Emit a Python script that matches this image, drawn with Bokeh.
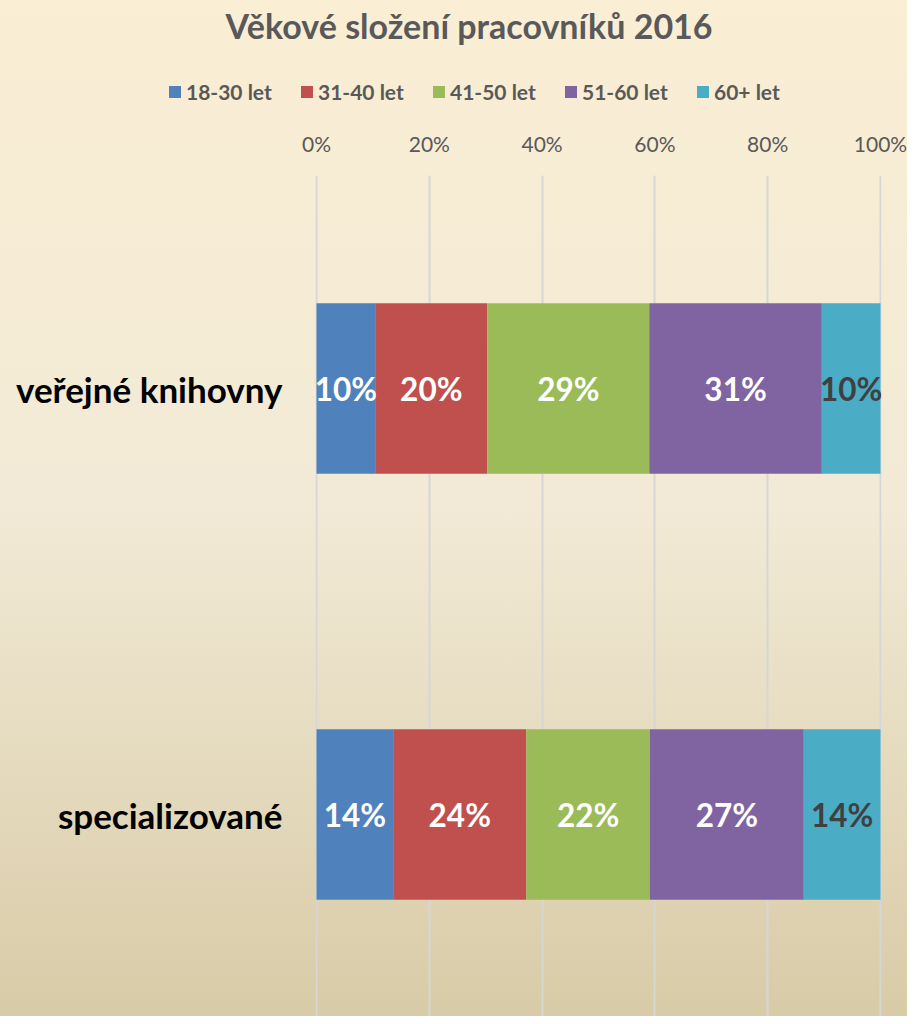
from bokeh.plotting import figure
from bokeh.layouts import column
from bokeh.models import (ColumnDataSource, Range1d, FixedTicker, PrintfTickFormatter,
                          Legend, LegendItem)
from bokeh.core.properties import value
from bokeh.embed import file_html
from bokeh.resources import INLINE

# ---- data ----
categories = ["veřejné knihovny", "specializované"]
age_groups = ["18-30 let", "31-40 let", "41-50 let", "51-60 let", "60+ let"]
verejne_knihovny = [10.4, 19.9, 28.7, 30.6, 10.4]
specializovane = [13.6, 23.6, 21.9, 27.3, 13.6]
x_ticks = [0, 20, 40, 60, 80, 100]

colors = ["#4F81BD", "#C0504D", "#9BBB59", "#8064A2", "#4BACC6"]
label_colors = ["#FFFFFF", "#FFFFFF", "#FFFFFF", "#FFFFFF", "#404040"]
FONT = "Lato"
W, H_HEAD, H_TOTAL = 907, 120, 1016

series = [verejne_knihovny, specializovane]
ypos = [len(categories) - 1 - i for i in range(len(categories))]

# ---------------- header: title + legend ----------------
head = figure(width=W, height=H_HEAD, output_backend="svg", toolbar_location=None,
              x_range=Range1d(0, 1), y_range=Range1d(0, 1),
              x_axis_location=None, y_axis_location=None,
              min_border_left=0, min_border_right=0, min_border_top=0, min_border_bottom=0)
head.frame_align = False
head.background_fill_color = None
head.border_fill_color = None
head.outline_line_color = None
head.grid.visible = False
head.title.text = "Věkové složení pracovníků 2016"
head.title.text_font = FONT
head.title.text_font_size = "34px"
head.title.text_font_style = "bold"
head.title.text_color = "#595959"
head.title.align = "left"
head.title.offset = 225
head.title.standoff = 4

# legend proxies: zero-size bars outside the visible range, used only for the swatches
proxy_src = ColumnDataSource(dict(y=[-5], left=[0], right=[0]))
proxies = [head.hbar(y="y", left="left", right="right", height=0, color=c, line_color=None,
                     source=proxy_src) for c in colors]
legend = Legend(items=[LegendItem(label=g, renderers=[r]) for g, r in zip(age_groups, proxies)],
                orientation="horizontal", location=(167, 16),
                padding=4, margin=0, spacing=27, label_standoff=4,
                glyph_width=15, glyph_height=15, label_width=86,
                label_text_font=FONT, label_text_font_size="21px",
                label_text_font_style="bold", label_text_color="#595959",
                border_line_color=None, background_fill_alpha=0)
head.add_layout(legend, "center")

# ---------------- main chart ----------------
p = figure(width=W, height=H_TOTAL - H_HEAD, output_backend="svg", toolbar_location=None,
           x_range=Range1d(-0.18, 100.18), y_range=Range1d(-0.474, 1.5),
           x_axis_location="above",
           min_border_left=315, min_border_right=26, min_border_top=55, min_border_bottom=0)
p.frame_align = False
p.background_fill_color = None
p.border_fill_color = None
p.outline_line_color = None

data = {"y": ypos}
for j, g in enumerate(age_groups):
    data[g] = [s[j] for s in series]
src = ColumnDataSource(data)
rs = p.hbar_stack(age_groups, y="y", height=0.4, color=colors, source=src, line_color=None)

lx, ly, lt, lc = [], [], [], []
for i, s in enumerate(series):
    cum = 0.0
    for j, v in enumerate(s):
        lx.append(cum + v / 2)
        ly.append(ypos[i])
        lt.append(f"{round(v):d}%")
        lc.append(label_colors[j])
        cum += v
p.text(x=lx, y=ly, text=lt, text_color=lc, text_align="center", text_baseline="middle",
       text_font=value(FONT), text_font_size="31.5px", text_font_style="bold")

xa = p.xaxis[0]
xa.ticker = FixedTicker(ticks=x_ticks)
xa.formatter = PrintfTickFormatter(format="%d%%")
xa.axis_line_color = None
xa.major_tick_line_color = None
xa.minor_tick_line_color = None
xa.major_tick_out = 0
xa.major_tick_in = 0
xa.major_label_text_font = FONT
xa.major_label_text_font_size = "21px"
xa.major_label_text_color = "#595959"
xa.major_label_standoff = 20

ya = p.yaxis[0]
ya.ticker = FixedTicker(ticks=ypos)
ya.major_label_overrides = {ypos[i]: c for i, c in enumerate(categories)}
ya.axis_line_color = None
ya.major_tick_line_color = None
ya.minor_tick_line_color = None
ya.major_tick_out = 0
ya.major_tick_in = 0
ya.major_label_text_font = FONT
ya.major_label_text_font_size = "35px"
ya.major_label_text_font_style = "bold"
ya.major_label_text_color = "#000000"
ya.major_label_standoff = 33

p.xgrid.ticker = FixedTicker(ticks=x_ticks)
p.xgrid.grid_line_color = "#D6D6D6"
p.xgrid.grid_line_width = 2
p.ygrid.grid_line_color = None

layout = column(head, p, spacing=0)
layout.styles = {"background": "linear-gradient(#FAEED4 0%, #F2EAD6 50%, #D8CBA7 100%)"}

open("out.html", "w").write(file_html(layout, INLINE))
